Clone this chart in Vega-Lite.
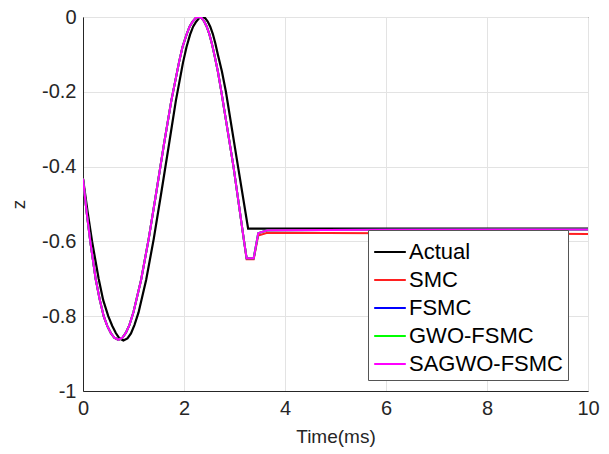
{
  "$schema": "https://vega.github.io/schema/vega-lite/v6.json",
  "width": 505,
  "height": 374,
  "autosize": "none",
  "padding": {"left": 83, "top": 17, "right": 21, "bottom": 63},
  "background": "white",
  "config": {
    "font": "Liberation Sans",
    "view": {"stroke": "#262626", "strokeWidth": 1},
    "axis": {
      "domainColor": "#262626",
      "labelColor": "#262626",
      "titleColor": "#262626",
      "labelFont": "Liberation Sans",
      "titleFont": "Liberation Sans",
      "labelFontSize": 20,
      "titleFontSize": 19,
      "titleFontWeight": "normal",
      "gridColor": "#e3e3e3",
      "gridWidth": 1,
      "ticks": false,
      "labelFlush": false
    }
  },
  "datasets": {
    "actual": [
      {"t": 0, "z": -0.432},
      {"t": 0.09, "z": -0.52},
      {"t": 0.18, "z": -0.6},
      {"t": 0.31, "z": -0.7},
      {"t": 0.4, "z": -0.757},
      {"t": 0.5, "z": -0.8},
      {"t": 0.58, "z": -0.826},
      {"t": 0.65, "z": -0.845},
      {"t": 0.72, "z": -0.8595},
      {"t": 0.8, "z": -0.865},
      {"t": 0.88, "z": -0.8595},
      {"t": 0.95, "z": -0.846},
      {"t": 1.02, "z": -0.823},
      {"t": 1.1, "z": -0.79},
      {"t": 1.25, "z": -0.703},
      {"t": 1.4, "z": -0.594},
      {"t": 1.55, "z": -0.47},
      {"t": 1.7, "z": -0.343},
      {"t": 1.84, "z": -0.223},
      {"t": 1.98, "z": -0.122},
      {"t": 2.05, "z": -0.08},
      {"t": 2.12, "z": -0.047},
      {"t": 2.18, "z": -0.026},
      {"t": 2.24, "z": -0.0125},
      {"t": 2.3, "z": -0.003},
      {"t": 2.36, "z": 0},
      {"t": 2.42, "z": -0.003},
      {"t": 2.47, "z": -0.012},
      {"t": 2.52, "z": -0.026},
      {"t": 2.57, "z": -0.045},
      {"t": 2.62, "z": -0.07},
      {"t": 2.67, "z": -0.1},
      {"t": 2.75, "z": -0.145},
      {"t": 2.83, "z": -0.2},
      {"t": 3.07, "z": -0.4},
      {"t": 3.27, "z": -0.566},
      {"t": 10, "z": -0.566}
    ],
    "ctrl": [
      {"t": 0, "SMC": -0.432, "FSMC": -0.432, "GWO": -0.432, "SAGWO": -0.432},
      {"t": 0.07, "SMC": -0.52, "FSMC": -0.52, "GWO": -0.52, "SAGWO": -0.52},
      {"t": 0.144, "SMC": -0.6, "FSMC": -0.6, "GWO": -0.6, "SAGWO": -0.6},
      {"t": 0.25, "SMC": -0.7, "FSMC": -0.7, "GWO": -0.7, "SAGWO": -0.7},
      {"t": 0.33, "SMC": -0.755, "FSMC": -0.755, "GWO": -0.755, "SAGWO": -0.755},
      {"t": 0.41, "SMC": -0.8, "FSMC": -0.8, "GWO": -0.8, "SAGWO": -0.8},
      {"t": 0.48, "SMC": -0.826, "FSMC": -0.826, "GWO": -0.826, "SAGWO": -0.826},
      {"t": 0.55, "SMC": -0.845, "FSMC": -0.845, "GWO": -0.845, "SAGWO": -0.845},
      {"t": 0.62, "SMC": -0.8576, "FSMC": -0.8576, "GWO": -0.8576, "SAGWO": -0.8576},
      {"t": 0.7, "SMC": -0.863, "FSMC": -0.863, "GWO": -0.863, "SAGWO": -0.863},
      {"t": 0.78, "SMC": -0.8576, "FSMC": -0.8576, "GWO": -0.8576, "SAGWO": -0.8576},
      {"t": 0.85, "SMC": -0.844, "FSMC": -0.844, "GWO": -0.844, "SAGWO": -0.844},
      {"t": 0.92, "SMC": -0.823, "FSMC": -0.823, "GWO": -0.823, "SAGWO": -0.823},
      {"t": 1.0, "SMC": -0.789, "FSMC": -0.789, "GWO": -0.789, "SAGWO": -0.789},
      {"t": 1.15, "SMC": -0.703, "FSMC": -0.703, "GWO": -0.703, "SAGWO": -0.703},
      {"t": 1.3, "SMC": -0.594, "FSMC": -0.594, "GWO": -0.594, "SAGWO": -0.594},
      {"t": 1.45, "SMC": -0.47, "FSMC": -0.47, "GWO": -0.47, "SAGWO": -0.47},
      {"t": 1.6, "SMC": -0.343, "FSMC": -0.343, "GWO": -0.343, "SAGWO": -0.343},
      {"t": 1.75, "SMC": -0.223, "FSMC": -0.223, "GWO": -0.223, "SAGWO": -0.223},
      {"t": 1.9, "SMC": -0.122, "FSMC": -0.122, "GWO": -0.122, "SAGWO": -0.122},
      {"t": 1.97, "SMC": -0.08, "FSMC": -0.08, "GWO": -0.08, "SAGWO": -0.08},
      {"t": 2.05, "SMC": -0.047, "FSMC": -0.047, "GWO": -0.047, "SAGWO": -0.047},
      {"t": 2.11, "SMC": -0.026, "FSMC": -0.026, "GWO": -0.026, "SAGWO": -0.026},
      {"t": 2.17, "SMC": -0.0125, "FSMC": -0.0125, "GWO": -0.0125, "SAGWO": -0.0125},
      {"t": 2.23, "SMC": -0.003, "FSMC": -0.003, "GWO": -0.003, "SAGWO": -0.003},
      {"t": 2.29, "SMC": 0, "FSMC": 0, "GWO": 0, "SAGWO": 0},
      {"t": 2.35, "SMC": -0.003, "FSMC": -0.003, "GWO": -0.003, "SAGWO": -0.003},
      {"t": 2.4, "SMC": -0.012, "FSMC": -0.012, "GWO": -0.012, "SAGWO": -0.012},
      {"t": 2.45, "SMC": -0.026, "FSMC": -0.026, "GWO": -0.026, "SAGWO": -0.026},
      {"t": 2.5, "SMC": -0.045, "FSMC": -0.045, "GWO": -0.045, "SAGWO": -0.045},
      {"t": 2.55, "SMC": -0.07, "FSMC": -0.07, "GWO": -0.07, "SAGWO": -0.07},
      {"t": 2.6, "SMC": -0.1, "FSMC": -0.1, "GWO": -0.1, "SAGWO": -0.1},
      {"t": 2.67, "SMC": -0.145, "FSMC": -0.145, "GWO": -0.145, "SAGWO": -0.145},
      {"t": 2.74, "SMC": -0.2, "FSMC": -0.2, "GWO": -0.2, "SAGWO": -0.2},
      {"t": 2.98, "SMC": -0.4, "FSMC": -0.4, "GWO": -0.4, "SAGWO": -0.4},
      {"t": 3.19, "SMC": -0.6, "FSMC": -0.6, "GWO": -0.6, "SAGWO": -0.6},
      {"t": 3.24, "SMC": -0.648, "FSMC": -0.645, "GWO": -0.645, "SAGWO": -0.645},
      {"t": 3.38, "SMC": -0.648, "FSMC": -0.645, "GWO": -0.645, "SAGWO": -0.645},
      {"t": 3.47, "SMC": -0.584, "FSMC": -0.578, "GWO": -0.578, "SAGWO": -0.578},
      {"t": 3.65, "SMC": -0.577, "FSMC": -0.57, "GWO": -0.57, "SAGWO": -0.57},
      {"t": 6, "SMC": -0.578, "FSMC": -0.569, "GWO": -0.569, "SAGWO": -0.569},
      {"t": 10, "SMC": -0.58, "FSMC": -0.568, "GWO": -0.568, "SAGWO": -0.568}
    ]
  },
  "encoding": {
    "x": {
      "field": "t",
      "type": "quantitative",
      "scale": {"domain": [0, 10], "nice": false, "zero": false},
      "axis": {"values": [0, 2, 4, 6, 8, 10], "title": "Time(ms)", "grid": true, "labelPadding": 7, "titlePadding": 9}
    }
  },
  "layer": [
    {
      "data": {"name": "actual"},
      "mark": {"type": "line", "strokeWidth": 2.2, "clip": true},
      "encoding": {
        "y": {
          "field": "z",
          "type": "quantitative",
          "scale": {"domain": [-1, 0], "nice": false, "zero": false},
          "axis": {
            "values": [-1, -0.8, -0.6, -0.4, -0.2, 0],
            "labelExpr": "toString(datum.value)",
            "title": "z",
            "grid": true,
            "labelPadding": 7,
            "titlePadding": 13
          }
        },
        "color": {
          "datum": "Actual",
          "type": "nominal",
          "scale": {
            "domain": ["Actual", "SMC", "FSMC", "GWO-FSMC", "SAGWO-FSMC"],
            "range": ["#000000", "#ff2020", "#0000ff", "#00ff00", "#ff00ff"]
          },
          "legend": {
            "title": null,
            "orient": "none",
            "legendX": 285,
            "legendY": 213,
            "fillColor": "white",
            "strokeColor": "#555555",
            "padding": 5,
            "symbolType": "stroke",
            "symbolSize": 1000,
            "symbolStrokeWidth": 2,
            "labelFontSize": 22,
            "labelFont": "Liberation Sans",
            "labelColor": "#000000",
            "labelOffset": 2,
            "rowPadding": -4,
            "labelLimit": 300
          }
        }
      }
    },
    {
      "data": {"name": "ctrl"},
      "mark": {"type": "line", "strokeWidth": 2, "clip": true},
      "encoding": {"y": {"field": "SMC", "type": "quantitative"}, "color": {"datum": "SMC", "type": "nominal"}}
    },
    {
      "data": {"name": "ctrl"},
      "mark": {"type": "line", "strokeWidth": 2, "clip": true},
      "encoding": {"y": {"field": "FSMC", "type": "quantitative"}, "color": {"datum": "FSMC", "type": "nominal"}}
    },
    {
      "data": {"name": "ctrl"},
      "mark": {"type": "line", "strokeWidth": 2, "clip": true},
      "encoding": {"y": {"field": "GWO", "type": "quantitative"}, "color": {"datum": "GWO-FSMC", "type": "nominal"}}
    },
    {
      "data": {"name": "ctrl"},
      "mark": {"type": "line", "strokeWidth": 2, "clip": true},
      "encoding": {"y": {"field": "SAGWO", "type": "quantitative"}, "color": {"datum": "SAGWO-FSMC", "type": "nominal"}}
    }
  ]
}
